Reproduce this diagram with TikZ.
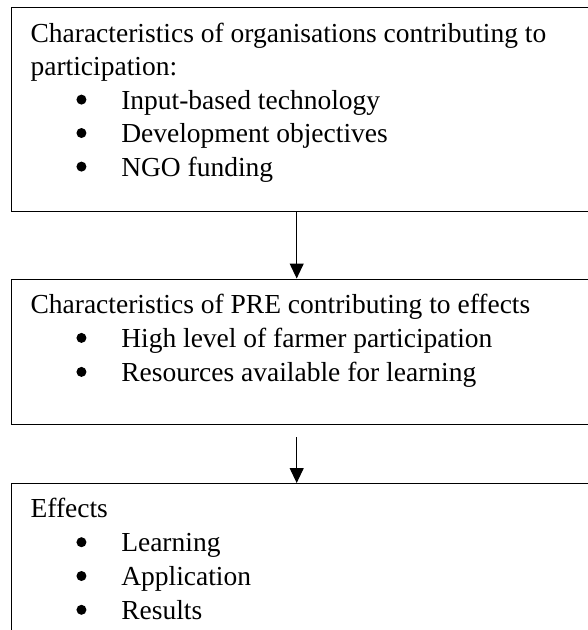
\documentclass[tikz,border=0pt]{standalone}
\usepackage{fontspec}
\setmainfont{Liberation Serif}
\usetikzlibrary{arrows.meta,positioning}

\begin{document}
\begin{tikzpicture}[x=1pt,y=-1pt,line width=1.1pt,
    font=\fontsize{27.5}{33.5}\selectfont]
  \useasboundingbox (0,0) rectangle (588,630);
  \clip (0,0) rectangle (588,630);
  % the three frames
  \begin{scope}[every node/.style={draw,rectangle,anchor=north west,
      inner sep=0,minimum width=600}]
    \node (orgbox) [minimum height=203.4] at (10.5,7.3) {};
    \node (prebox) [minimum height=145.2] at (10.5,278.5) {};
    \node (effbox) [minimum height=170] at (10.5,483) {};
  \end{scope}
  % headings and list entries
  \begin{scope}[every node/.style={anchor=base west,inner sep=0}]
    \node (orghead) at (30,42.4) {Characteristics of organisations contributing to};
    \node (orghead2) at (30,75.4) {participation:};
    \node (input) at (120.7,109) {Input-based technology};
    \node (devobj) at (120.7,142.4) {Development objectives};
    \node (ngo) at (120.7,176) {NGO funding};
    \node (prehead) at (30,313.2) {Characteristics of PRE contributing to effects};
    \node (farmer) at (120.7,347.3) {High level of farmer participation};
    \node (resources) at (120.7,381.3) {Resources available for learning};
    \node (effhead) at (30,517.4) {Effects};
    \node (learning) at (120.7,551.6) {Learning};
    \node (application) at (120.7,585.4) {Application};
    \node (results) at (120.7,619.2) {Results};
  \end{scope}
  % bullets
  \begin{scope}[every node/.style={circle,fill,inner sep=0,minimum size=10}]
    \node (b1) [left=33.7 of input.base west,yshift=9.4pt] {};
    \node (b2) [left=33.7 of devobj.base west,yshift=9.4pt] {};
    \node (b3) [left=33.7 of ngo.base west,yshift=9.4pt] {};
    \node (b4) [left=33.7 of farmer.base west,yshift=9.4pt] {};
    \node (b5) [left=33.7 of resources.base west,yshift=9.4pt] {};
    \node (b6) [left=33.7 of learning.base west,yshift=9.4pt] {};
    \node (b7) [left=33.7 of application.base west,yshift=9.4pt] {};
    \node (b8) [left=33.7 of results.base west,yshift=9.4pt] {};
  \end{scope}
  % arrows between the frames
  \coordinate (gap) at (296.7,437);
  \begin{scope}[-{Triangle[width=14pt,length=15pt]}]
    \draw (orgbox.south west -| gap) -- (prebox.north west -| gap);
    \draw (gap) -- (effbox.north west -| gap);
  \end{scope}
\end{tikzpicture}
\end{document}
